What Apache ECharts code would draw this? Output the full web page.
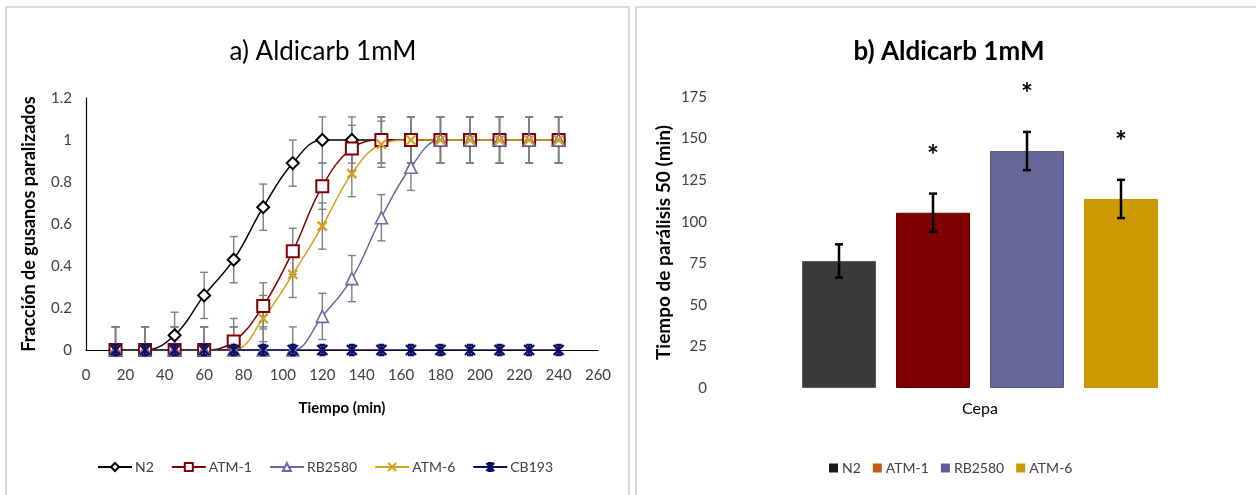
<!DOCTYPE html>
<html><head><meta charset="utf-8">
<script src="https://cdn.jsdelivr.net/npm/echarts@6/dist/echarts.min.js"></script>
<style>html,body{margin:0;padding:0;background:#fff}#c{width:1256px;height:495px}</style>
</head><body><div id="c"></div>
<script>
// ---- Data: panel a ----
const times = [15,30,45,60,75,90,105,120,135,150,165,180,195,210,225,240];
const n2     = [0,0,0.07,0.26,0.43,0.68,0.89,1,1,1,1,1,1,1,1,1];
const atm1   = [0,0,0,0,0.04,0.21,0.47,0.78,0.96,1,1,1,1,1,1,1];
const rb2580 = [0,0,0,0,0,0,0,0.16,0.34,0.63,0.87,1,1,1,1,1];
const atm6   = [0,0,0,0,0,0.15,0.36,0.59,0.84,0.98,1,1,1,1,1,1];
const cb193  = [0,0,0,0,0,0,0,0,0,0,0,0,0,0,0,0];
const errA   = 0.11;
// ---- Data: panel b ----
const strains = ['N2','ATM-1','RB2580','ATM-6'];
const tp50    = [76.4,105.4,142.5,113.7];
const tp50Err = [10,11.5,11.5,11.5];
const signif  = ['','*','*','*'];
const xTicksA = [0,20,40,60,80,100,120,140,160,180,200,220,240,260];
const yTicksB = [0,25,50,75,100,125,150,175];

const FONT = "Lato,'Open Sans',sans-serif";
const chart = echarts.init(document.getElementById('c'));

function pts(arr){ return times.map((t,i)=>[t,arr[i]]); }

function errSeries(arr, err, color){
  return {
    type:'custom', xAxisIndex:0, yAxisIndex:0, z:1, silent:true,
    data: pts(arr).map(p=>[p[0],p[1],err]),
    renderItem(params, api){
      const x = api.value(0), y = api.value(1), e = api.value(2);
      const lo = Math.max(0, y - e), hi = Math.min(1.2, y + e);
      const p1 = api.coord([x, lo]), p2 = api.coord([x, hi]);
      const w = 4;
      const st = {stroke: color, lineWidth: 1.4};
      const ch = [{type:'line', shape:{x1:p1[0],y1:p1[1],x2:p2[0],y2:p2[1]}, style:st}];
      ch.push({type:'line', shape:{x1:p2[0]-w,y1:p2[1],x2:p2[0]+w,y2:p2[1]}, style:st});
      if (y - e > 0) ch.push({type:'line', shape:{x1:p1[0]-w,y1:p1[1],x2:p1[0]+w,y2:p1[1]}, style:st});
      return {type:'group', children: ch};
    }
  };
}

const xPath = 'path://M0,0 L10,10 M10,0 L0,10';
const starPath = 'path://M0,0 L10,10 M10,0 L0,10 M5,0 L5,10 M2,0 L8,0 M2,10 L8,10';

function lineSeries(name, arr, color, symbol, size, fill, bw){
  return {
    name, type:'line', xAxisIndex:0, yAxisIndex:0, data: pts(arr),
    smooth:0.4, symbol, symbolSize:size, showAllSymbol:true, z:3,
    lineStyle:{color, width:1.5},
    itemStyle:{color: fill, borderColor:color, borderWidth:bw}
  };
}

const barColors  = ['#3a3a3a','#7f0000','#666699','#cc9900'];
const barBorders = ['#5a5a5a','#6a0000','#55557f','#c09010'];
const legendBColors = ['#1a1a1a','#c55a11','#5f5f99','#cc9900'];
const barW = 74, barGapPx = 20;

const barSeries = strains.map((s,i)=>({
  name:s, type:'bar', xAxisIndex:1, yAxisIndex:1, data:[tp50[i]],
  barWidth:barW, barGap:(barGapPx/barW*100).toFixed(1)+'%',
  itemStyle:{color:barColors[i], borderColor:barBorders[i], borderWidth:1}
}));

const errB = {
  type:'custom', xAxisIndex:1, yAxisIndex:1, z:5, silent:true,
  data: strains.map((s,i)=>[0, tp50[i], tp50Err[i], i]),
  renderItem(params, api){
    const v = api.value(1), e = api.value(2), i = api.value(3);
    const off = (i - 1.5) * (barW + barGapPx);
    const pTop = api.coord([0, v + e]), pBot = api.coord([0, v - e]);
    const x = pTop[0] + off, w = 4;
    const st = {stroke:'#000', lineWidth:2.5};
    const ch = [
      {type:'line', shape:{x1:x,y1:pTop[1],x2:x,y2:pBot[1]}, style:st},
      {type:'line', shape:{x1:x-w,y1:pTop[1],x2:x+w,y2:pTop[1]}, style:st},
      {type:'line', shape:{x1:x-w,y1:pBot[1],x2:x+w,y2:pBot[1]}, style:st}
    ];
    const lab = signif[i];
    if (lab) ch.push({type:'text', x:x, y:pTop[1]-38,
      style:{text:lab, fill:'#000', font:"bold 28px "+FONT, align:'center', verticalAlign:'middle'}});
    return {type:'group', children:ch};
  }
};

const option = {
  animation:false,
  backgroundColor:'#fff',
  textStyle:{fontFamily:FONT},
  graphic:[
    {type:'rect', shape:{x:6,y:7,width:623,height:500}, style:{fill:'none', stroke:'#d9d9d9', lineWidth:2}},
    {type:'rect', shape:{x:636,y:7,width:640,height:500}, style:{fill:'none', stroke:'#d9d9d9', lineWidth:2}}
  ],
  title:[
    {text:'a) Aldicarb 1mM', left:318, top:34, textAlign:'center',
     textStyle:{fontFamily:FONT, fontSize:26, fontWeight:'normal', color:'#000'}},
    {text:'b) Aldicarb 1mM', left:944, top:34, textAlign:'center',
     textStyle:{fontFamily:FONT, fontSize:26, fontWeight:'bold', color:'#000'}}
  ],
  legend:[
    {left:97, top:460, padding:0, itemWidth:34, itemHeight:10, itemGap:17,
     textStyle:{fontFamily:FONT, fontSize:14, color:'#404040', padding:[0,0,0,-2]},
     data:['N2','ATM-1','RB2580','ATM-6','CB193']},
    {left:829, top:461, padding:0, itemWidth:9, itemHeight:9, itemGap:12, icon:'rect',
     itemStyle:{borderWidth:0},
     textStyle:{fontFamily:FONT, fontSize:14, color:'#404040', padding:[0,0,0,-1]},
     data: strains.map((s,i)=>({name:s, itemStyle:{color:legendBColors[i], borderWidth:0}}))}
  ],
  grid:[
    {left:86, top:98, width:512, height:252},
    {left:720, top:97, width:520, height:291}
  ],
  xAxis:[
    {type:'value', gridIndex:0, min:0, max:260, interval:20,
     axisLine:{show:true, onZero:false, lineStyle:{color:'#000', width:1.2}},
     axisTick:{show:false}, splitLine:{show:false},
     axisLabel:{fontFamily:FONT, fontSize:15, color:'#404040', margin:18,
       formatter:v=>xTicksA.includes(v)?String(v):''},
     name:'Tiempo (min)', nameLocation:'middle', nameGap:51,
     nameTextStyle:{fontFamily:FONT, fontSize:15, fontWeight:'bold', color:'#000'}},
    {type:'category', gridIndex:1, data:['Cepa'],
     axisLine:{show:false}, axisTick:{show:false},
     axisLabel:{fontFamily:FONT, fontSize:16, color:'#000', margin:13}}
  ],
  yAxis:[
    {type:'value', gridIndex:0, min:0, max:1.2, interval:0.2,
     axisLine:{show:true, lineStyle:{color:'#000', width:1.2}},
     axisTick:{show:false}, splitLine:{show:false},
     axisLabel:{fontFamily:FONT, fontSize:15, color:'#404040', margin:14,
       formatter:v=>String(Math.round(v*10)/10)},
     name:'Fracción de gusanos paralizados', nameLocation:'middle', nameGap:48,
     nameTextStyle:{fontFamily:FONT, fontSize:18, fontWeight:'bold', color:'#000'}},
    {type:'value', gridIndex:1, min:0, max:175, interval:25,
     axisLine:{show:false}, axisTick:{show:false}, splitLine:{show:false},
     axisLabel:{fontFamily:FONT, fontSize:15, color:'#404040', margin:13,
       formatter:v=>yTicksB.includes(v)?String(v):''},
     name:'Tiempo de parálisis 50 (min)', nameLocation:'middle', nameGap:47,
     nameTextStyle:{fontFamily:FONT, fontSize:19, fontWeight:'bold', color:'#000'}}
  ],
  series:[
    errSeries(n2, errA, '#7f7f7f'),
    errSeries(atm1, errA, '#7f7f7f'),
    errSeries(rb2580, errA, '#7f7f7f'),
    errSeries(atm6, errA, '#7f7f7f'),
    lineSeries('N2', n2, '#000000', 'diamond', 12, '#fff', 2),
    lineSeries('ATM-1', atm1, '#800000', 'rect', 12, '#fff', 2),
    lineSeries('RB2580', rb2580, '#6a6aa3', 'triangle', 12, '#fff', 1.6),
    lineSeries('ATM-6', atm6, '#d4a017', xPath, 9, '#d4a017', 2.2),
    lineSeries('CB193', cb193, '#0d0d66', starPath, 10, '#0d0d66', 2.4),
    ...barSeries,
    errB
  ]
};
chart.setOption(option);
</script></body></html>
